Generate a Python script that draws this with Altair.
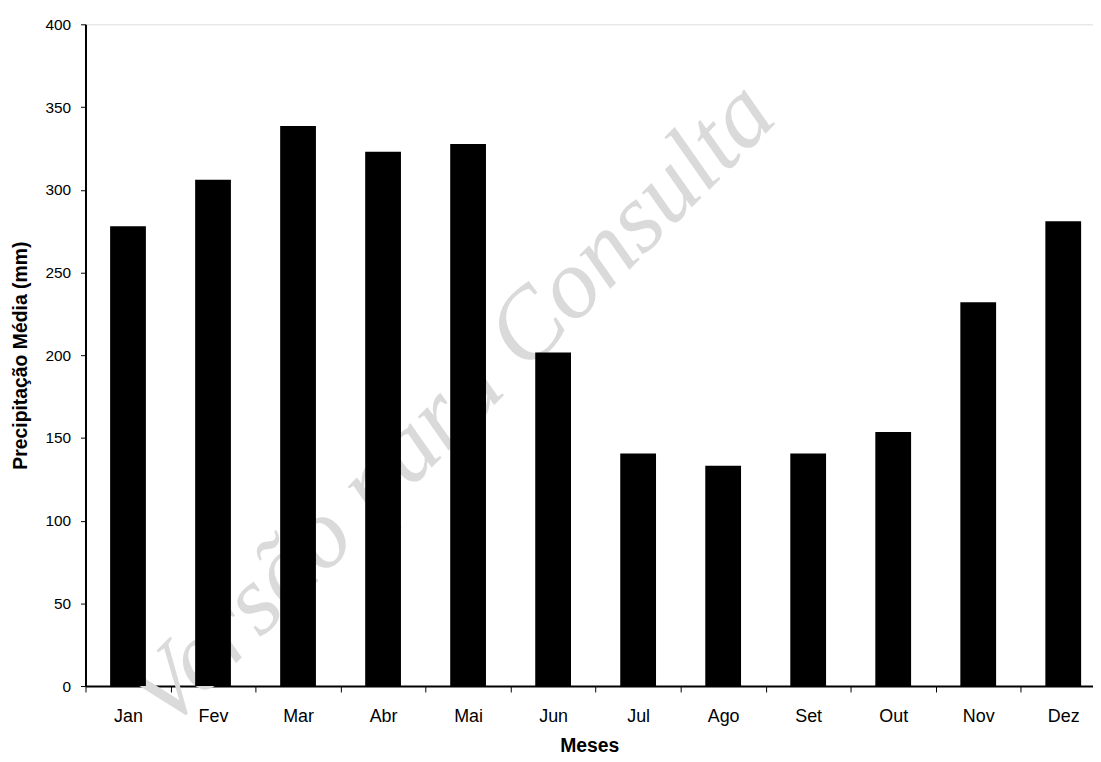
import altair as alt
import pandas as pd

months = ["Jan", "Fev", "Mar", "Abr", "Mai", "Jun", "Jul", "Ago", "Set", "Out", "Nov", "Dez"]
precip = [278, 306, 338.5, 323, 327.7, 201.6, 140.5, 133.2, 140.5, 153.6, 232, 281]
y_ticks = [0, 50, 100, 150, 200, 250, 300, 350, 400]
watermark = ["Versão para Consulta"]

df = pd.DataFrame({"Mes": months, "Precipitacao": precip, "idx": list(range(len(months)))})

month_arr = "[" + ",".join("'" + m + "'" for m in months) + "]"
x_values = [i * 0.5 for i in range(2 * len(months))]

x_axis = alt.Axis(
    values=x_values,
    labelExpr="datum.value % 1 == 0 ? '' : " + month_arr + "[floor(datum.value)]",
    tickOpacity={"condition": {"test": "datum.value % 1 == 0", "value": 1}, "value": 0},
    labelOverlap=False,
    labelFlush=False,
    grid=False,
    domainColor="black",
    domainWidth=2,
    tickColor="black",
    tickWidth=1,
    tickSize=6,
    labelFont="Liberation Sans",
    labelFontSize=18,
    labelColor="black",
    labelPadding=16,
    title="Meses",
    titleFont="Liberation Sans",
    titleFontSize=19.5,
    titleFontWeight="bold",
    titleColor="black",
    titlePadding=11,
)

y_axis = alt.Axis(
    values=y_ticks,
    grid=False,
    domainColor="black",
    domainWidth=2,
    tickColor="black",
    tickWidth=1,
    tickSize=5,
    labelFont="Liberation Sans",
    labelFontSize=15.5,
    labelColor="black",
    labelPadding=10,
    title="Precipitação Média (mm)",
    titleFont="Liberation Sans",
    titleFontSize=19.5,
    titleFontWeight="bold",
    titleColor="black",
    titlePadding=15,
)

wm = alt.Chart(pd.DataFrame({"t": watermark})).mark_text(
    font="Liberation Serif",
    fontStyle="italic",
    fontSize=100,
    angle=315,
    align="center",
    baseline="middle",
    fill="#dadada",
).encode(text="t:N", x=alt.value(369), y=alt.value(383))

bars = alt.Chart(df).transform_calculate(pos="datum.idx + 0.5").mark_bar(
    color="black", size=36, orient="vertical"
).encode(
    x=alt.X("pos:Q", scale=alt.Scale(domain=[0, 11.85], nice=False, zero=False, padding=0), axis=x_axis),
    y=alt.Y("Precipitacao:Q", scale=alt.Scale(domain=[0, 400], nice=False), axis=y_axis),
)

chart = alt.layer(wm, bars).properties(
    width=1014,
    height=666,
    padding={"left": 78, "top": 14, "right": 0, "bottom": 72},
    autosize="none",
).configure_view(stroke=None).configure(background="white")

chart.save("out.html", embed_options={"renderer": "svg", "actions": False})
